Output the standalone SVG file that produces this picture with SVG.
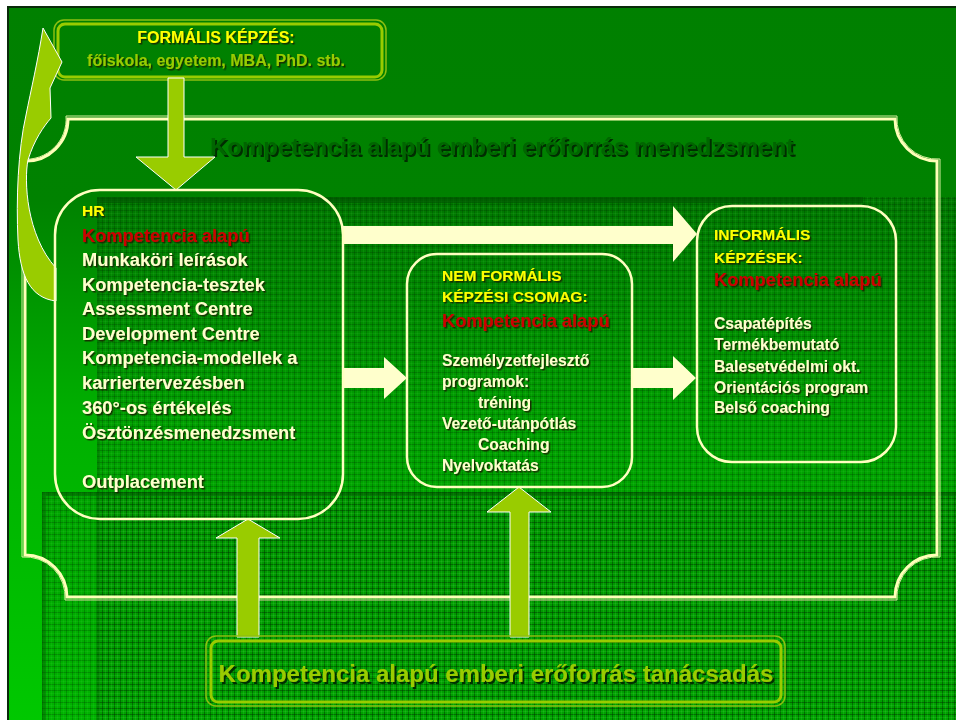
<svg xmlns="http://www.w3.org/2000/svg" width="956" height="720" viewBox="0 0 956 720">
<defs>
<linearGradient id="bg" x1="0" y1="0" x2="0" y2="720" gradientUnits="userSpaceOnUse">
<stop offset="0" stop-color="#008000"/>
<stop offset="0.28" stop-color="#008200"/>
<stop offset="0.58" stop-color="#00B000"/>
<stop offset="1" stop-color="#00C800"/>
</linearGradient>
<pattern id="grid" width="6" height="6" patternUnits="userSpaceOnUse">
<rect width="6" height="6" fill="#003000" fill-opacity="0.14"/>
<rect width="6" height="1" fill="#003000" fill-opacity="0.25"/>
<rect width="1" height="6" fill="#003000" fill-opacity="0.25"/>
<rect y="3" width="6" height="1" fill="#60ff60" fill-opacity="0.08"/>
<rect x="3" width="1" height="6" fill="#60ff60" fill-opacity="0.08"/>
</pattern>
<filter id="sh" x="-5%" y="-30%" width="110%" height="160%">
<feDropShadow dx="1.5" dy="1.5" stdDeviation="0.3" flood-color="#152000" flood-opacity="0.85"/>
</filter>
<filter id="sh2" x="-5%" y="-30%" width="110%" height="160%">
<feDropShadow dx="2" dy="2" stdDeviation="0.3" flood-color="#002000" flood-opacity="0.9"/>
</filter>
</defs>
<style>
text{font-family:"Liberation Sans",Arial,sans-serif;font-weight:bold}
.y{fill:#FFFF00;font-size:15.5px}
.r{fill:#CC0000;font-size:18.3px}
.c{fill:#FFFFCC;font-size:18.3px}
.cs{fill:#FFFFCC;font-size:15.7px}
.box{fill:none;stroke:#FFFFC0;stroke-width:2.5}
.lime{fill:#99CC00;stroke:#FFFFFF;stroke-width:1}
.cream{fill:#FFFFCC}
</style>

<!-- page background -->
<rect width="956" height="720" fill="#FFFFFF"/>
<rect x="7" y="6" width="949" height="714" fill="#0A2A0A"/>
<rect x="9" y="8" width="947" height="712" fill="url(#bg)"/>
<rect x="97" y="197" width="859" height="523" fill="url(#grid)"/>
<rect x="97" y="197" width="766" height="6" fill="#005000" fill-opacity="0.6"/>
<rect x="97" y="203" width="3" height="517" fill="#005000" fill-opacity="0.35"/>
<rect x="42" y="492" width="914" height="228" fill="url(#grid)"/>
<rect x="42" y="492" width="914" height="4" fill="#005000" fill-opacity="0.5"/>
<rect x="42" y="496" width="4" height="224" fill="#005000" fill-opacity="0.4"/>

<!-- frame -->
<g id="frame">
<path d="M66,116 L897,116 A40 40 0 0 0 940,159 L940,557 A40 40 0 0 0 897,600 L65,600 A40 40 0 0 0 22,557 L22,159 A40 40 0 0 0 66,116 Z" fill="none" stroke="#D8EFA0" stroke-width="1"/>
<path d="M68,119 L895,119 A42 42 0 0 0 937,161 L937,555 A42 42 0 0 0 895,597 L67,597 A42 42 0 0 0 25,555 L25,161 A42 42 0 0 0 68,119 Z" fill="none" stroke="#FFFFB8" stroke-width="3"/>
<text x="502" y="155" text-anchor="middle" font-size="24" fill="#006600" filter="url(#sh2)">Kompetencia alapú emberi erőforrás menedzsment</text>
</g>

<!-- formal box -->
<g id="formalis">
<rect x="54" y="20" width="332" height="60" rx="10" fill="none" stroke="#8DBF10" stroke-width="1.5"/>
<rect x="58" y="24" width="324" height="53" rx="7" fill="none" stroke="#99CC00" stroke-width="3"/>
<text x="216" y="43" text-anchor="middle" font-size="16" fill="#FFFF00" filter="url(#sh)">FORMÁLIS KÉPZÉS:</text>
<text x="216" y="66" text-anchor="middle" font-size="16" fill="#99CC00" filter="url(#sh)">főiskola, egyetem, MBA, PhD. stb.</text>
</g>

<!-- connectors -->
<g id="connectors">
<path class="lime" d="M43,28 L62,62 L50,88 L51,118 C44,126 34,140 28,160 C24,180 26,235 56,268 L56,301 C30,298 20,275 18,240 C16,200 18,150 26,115 C31,90 38,60 43,28 Z"/>
<polygon class="lime" points="168,78 184,78 184,157 215,157 176,190 136,157 168,157"/>
<polygon class="cream" points="343,226 673,226 673,206 697,234 673,262 673,244 343,244"/>
<polygon class="cream" points="343,368 384,368 384,357 407,378 384,399 384,388 343,388"/>
<polygon class="cream" points="632,368 673,368 673,356 696,378 673,400 673,388 632,388"/>
<polygon class="lime" points="237,637 237,538 216,538 248,519 280,538 259,538 259,637"/>
<polygon class="lime" points="510,637 510,512 487,512 519,487 551,512 529,512 529,637"/>
</g>

<!-- HR box -->
<g id="hr">
<rect class="box" x="55" y="190" width="288" height="329" rx="45"/>
<g filter="url(#sh)">
<text x="82" y="216" class="y" font-size="15">HR</text>
<text x="82" y="242" class="r">Kompetencia alapú</text>
<text x="82" y="266" class="c">Munkaköri leírások</text>
<text x="82" y="291" class="c">Kompetencia-tesztek</text>
<text x="82" y="315" class="c">Assessment Centre</text>
<text x="82" y="340" class="c">Development Centre</text>
<text x="82" y="364" class="c">Kompetencia-modellek a</text>
<text x="82" y="389" class="c">karriertervezésben</text>
<text x="82" y="414" class="c">360°-os értékelés</text>
<text x="82" y="439" class="c">Ösztönzésmenedzsment</text>
<text x="82" y="488" class="c">Outplacement</text>
</g>
</g>

<!-- non-formal box -->
<g id="nemformalis">
<rect class="box" x="407" y="254" width="225" height="233" rx="30"/>
<g filter="url(#sh)">
<text x="442" y="281" class="y">NEM FORMÁLIS</text>
<text x="442" y="302" class="y">KÉPZÉSI CSOMAG:</text>
<text x="442" y="327" class="r">Kompetencia alapú</text>
<text x="442" y="366" class="cs">Személyzetfejlesztő</text>
<text x="442" y="387" class="cs">programok:</text>
<text x="478" y="408" class="cs">tréning</text>
<text x="442" y="429" class="cs">Vezető-utánpótlás</text>
<text x="478" y="450" class="cs">Coaching</text>
<text x="442" y="471" class="cs">Nyelvoktatás</text>
</g>
</g>

<!-- informal box -->
<g id="informalis">
<rect class="box" x="697" y="206" width="199" height="256" rx="35"/>
<g filter="url(#sh)">
<text x="714" y="240" class="y">INFORMÁLIS</text>
<text x="714" y="263" class="y">KÉPZÉSEK:</text>
<text x="714" y="286" class="r">Kompetencia alapú</text>
<text x="714" y="329" class="cs">Csapatépítés</text>
<text x="714" y="350" class="cs">Termékbemutató</text>
<text x="714" y="372" class="cs">Balesetvédelmi okt.</text>
<text x="714" y="393" class="cs">Orientációs program</text>
<text x="714" y="413" class="cs">Belső coaching</text>
</g>
</g>

<!-- consulting box -->
<g id="tanacsadas">
<rect x="206" y="636" width="579" height="70" rx="10" fill="none" stroke="#8DBF10" stroke-width="1.5"/>
<rect x="211" y="641" width="570" height="61" rx="7" fill="none" stroke="#99CC00" stroke-width="3"/>
<text x="496" y="682" text-anchor="middle" font-size="24" fill="#99CC00" filter="url(#sh2)">Kompetencia alapú emberi erőforrás tanácsadás</text>
</g>
</svg>
